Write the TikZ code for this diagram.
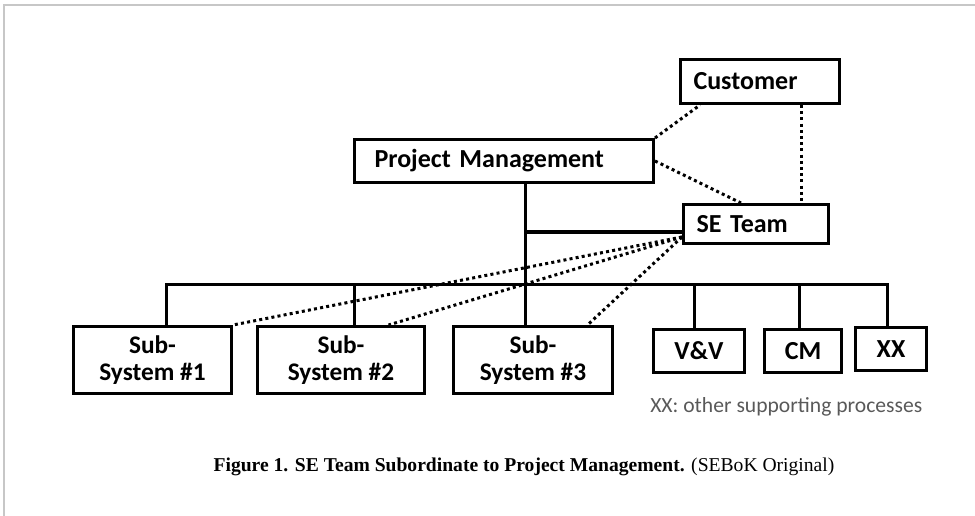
\documentclass[tikz,border=0pt]{standalone}
\usepackage{fontspec}
\setmainfont{Carlito}
\newfontfamily\capfont{Liberation Serif}
\usetikzlibrary{calc}
\newlength{\pxu}
\setlength{\pxu}{0.75pt}
\tikzset{
  orgb/.style={draw=black, line width=2.25pt, anchor=north west, inner ysep=0pt,
    align=left, font=\fontsize{19.5}{23}\selectfont\bfseries},
  ctrb/.style={orgb, inner xsep=0pt, align=center},
  subb/.style={ctrb, font=\fontsize{19}{20}\selectfont\bfseries},
  tie/.style={line width=2.25pt},
  tieb/.style={line width=3pt},
  dotl/.style={line width=2.25pt, dash pattern=on 2.25pt off 2.4pt},
  notel/.style={text=black!65, font=\fontsize{16.2}{19}\selectfont, inner sep=0pt},
  capl/.style={font=\capfont\fontsize{14.7}{17}\selectfont, inner sep=0pt},
}
\begin{document}
\begin{tikzpicture}[x=0.75pt, y=-0.75pt]
  \useasboundingbox (0,0) rectangle (975,516);
  \draw[black!22, line width=1.5pt] (4,516) -- (4,5) -- (975,5);

  % top of the chart
  \node[orgb, text width=133\pxu, inner xsep=13\pxu, minimum height=44\pxu] (cust) at (679,58) {Customer};
  \node[orgb, text width=259\pxu, inner xsep=20\pxu, minimum height=43\pxu] (pm) at (353,138) {Project Management};
  \node[orgb, text width=119\pxu, inner xsep=13\pxu, minimum height=39\pxu] (se) at (682,203) {SE Team};

  % lower row
  \node[subb, minimum width=158\pxu, minimum height=67\pxu] (sub1) at (72,325) {Sub-\\System \#1};
  \node[subb, minimum width=167\pxu, minimum height=67\pxu] (sub2) at (256,325) {Sub-\\System \#2};
  \node[subb, minimum width=159\pxu, minimum height=67\pxu] (sub3) at (452,325) {Sub-\\System \#3};
  \node[ctrb, minimum width=91\pxu, minimum height=43\pxu] (vv) at (652,328) {V\&V};
  \node[ctrb, minimum width=77\pxu, minimum height=43\pxu] (cm) at (763,328) {CM};
  \node[ctrb, minimum width=71\pxu, minimum height=43\pxu] (xx) at (854,326) {XX};

  \node[notel, anchor=base west] (note) at (650,413) {XX: other supporting processes};
  \node[capl, anchor=base] (cap) at (524,472)
    {\textbf{Figure 1. SE Team Subordinate to Project Management.} (SEBoK Original)};

  % solid reporting lines
  \coordinate (join) at (525,232);
  \coordinate (busl) at (166,285);
  \coordinate (busr) at (887,285);
  \coordinate (tap2) at (354,285);
  \coordinate (tap4) at (694,285);
  \coordinate (tap5) at (799,285);
  \draw[tie] (pm.south -| join) -- (join |- sub3.north);
  \draw[tieb] (join) -- (join -| se.west);
  \draw[tie] (busl |- sub1.north) -- (busl) -- (busr) -- (busr |- xx.north);
  \draw[tie] (tap2) -- (tap2 |- sub2.north);
  \draw[tie] (tap4) -- (tap4 |- vv.north);
  \draw[tie] (tap5) -- (tap5 |- cm.north);

  % dotted links
  \coordinate (sefoot) at ($(se.south west)+(0,-8)$);
  \draw[dotl] (pm.north east) -- ($(cust.south west)+(21,0)$);
  \draw[dotl] (pm.east) -- ($(se.north)+(-15,0)$);
  \draw[dotl] ($(cust.south)+(41.5,0)$) -- ($(se.north)+(45.5,0)$);
  \draw[dotl] (sefoot) -- (sub1.north east);
  \draw[dotl] (sefoot) -- ($(sub2.north)+(47.5,0)$);
  \draw[dotl] (sefoot) -- ($(sub3.north)+(54.5,0)$);
\end{tikzpicture}
\end{document}
